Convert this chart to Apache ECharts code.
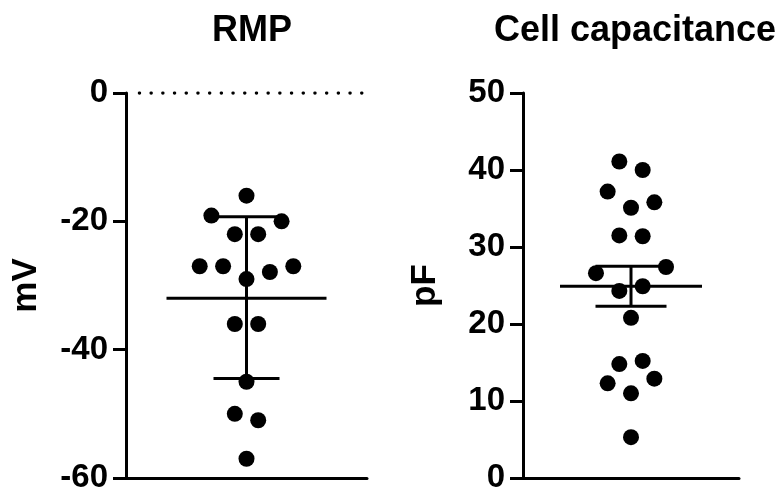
<!DOCTYPE html>
<html>
<head>
<meta charset="utf-8">
<script src="https://cdn.jsdelivr.net/npm/echarts@6/dist/echarts.min.js"></script>
<style>
  html, body { margin: 0; padding: 0; background: #fff; }
  #chart { width: 782px; height: 499px; }
</style>
</head>
<body>
<div id="chart"></div>
<script>
document.addEventListener('DOMContentLoaded', function() {

    // RMP (mV): [jitter column, value]
    const rmpPoints = [
        [0, -16.0], [-3, -19.1], [3, -20.0], [-1, -22.0], [1, -22.0],
        [-4, -27.0], [-2, -27.0], [4, -27.0], [2, -27.9], [0, -29.0],
        [-1, -36.0], [1, -36.0], [0, -45.0], [-1, -50.0], [1, -51.0], [0, -57.0]
    ];
    // mean, lower, upper (mean ± SD)
    const rmpSummary = [-32.0, -44.5, -19.3];
    // min, max, step
    const rmpTicks = [-60, 0, 20];

    // Cell capacitance (pF)
    const capPoints = [
        [-1, 41.1], [1, 40.0], [-2, 37.2], [2, 35.8], [0, 35.1],
        [-1, 31.5], [1, 31.4], [3, 27.4], [-3, 26.6], [-1, 24.3],
        [1, 24.9], [0, 20.8], [1, 15.2], [-1, 14.8], [-2, 12.3],
        [2, 12.9], [0, 11.0], [0, 5.3]
    ];
    // mean, lower, upper (mean ± SEM)
    const capSummary = [24.9, 22.3, 27.5];
    const capTicks = [0, 50, 10];

    const zeroLine = [[-9.15, 0], [9.9, 0]];

    const font = 'Liberation Sans, Arial, sans-serif';

    const errorBars = (meanHalf, capHalf) => (params, api) => {
        const mid = api.coord([0, api.value(1)]);
        const lo = api.coord([0, api.value(2)]);
        const hi = api.coord([0, api.value(3)]);
        const style = { stroke: '#000', lineWidth: 3 };
        const seg = (x1, y1, x2, y2) => ({ type: 'line', shape: { x1, y1, x2, y2 }, style });
        return {
            type: 'group',
            children: [
                seg(mid[0] - meanHalf, mid[1], mid[0] + meanHalf, mid[1]),
                seg(lo[0], lo[1], hi[0], hi[1]),
                seg(lo[0] - capHalf, lo[1], lo[0] + capHalf, lo[1]),
                seg(hi[0] - capHalf, hi[1], hi[0] + capHalf, hi[1])
            ]
        };
    };

    const yAxis = (idx, ticks, name, gap) => ({
        type: 'value',
        gridIndex: idx,
        min: ticks[0],
        max: ticks[1],
        interval: ticks[2],
        name: name,
        nameLocation: 'middle',
        nameGap: gap,
        nameRotate: 90,
        nameTextStyle: { fontFamily: font, fontWeight: 'bold', fontSize: 35, color: '#000' },
        axisLine: { show: true, onZero: false, lineStyle: { color: '#000', width: 3 } },
        axisTick: { show: true, length: 13, lineStyle: { color: '#000', width: 3 } },
        axisLabel: { fontFamily: font, fontWeight: 'bold', fontSize: 33, color: '#000', margin: 18 },
        splitLine: { show: false }
    });

    const xAxis = (idx, half) => ({
        type: 'value',
        gridIndex: idx,
        min: -half,
        max: half,
        axisLine: { show: true, onZero: false, lineStyle: { color: '#000', width: 3 } },
        axisTick: { show: false },
        axisLabel: { show: false },
        splitLine: { show: false }
    });

    const chart = echarts.init(document.getElementById('chart'));

    chart.setOption({
        animation: false,
        backgroundColor: '#fff',
        title: [
            {
                text: 'RMP', left: 247, top: 8, textAlign: 'center',
                textStyle: { fontFamily: font, fontWeight: 'bold', fontSize: 36, color: '#000' }
            },
            {
                text: 'Cell capacitance', left: 630, top: 8, textAlign: 'center',
                textStyle: { fontFamily: font, fontWeight: 'bold', fontSize: 36, color: '#000' }
            }
        ],
        grid: [
            { left: 126, top: 93, width: 241, height: 385 },
            { left: 523, top: 93, width: 216, height: 385 }
        ],
        xAxis: [xAxis(0, 10.3), xAxis(1, 9.25)],
        yAxis: [yAxis(0, rmpTicks, 'mV', 82), yAxis(1, capTicks, 'pF', 80)],
        series: [
            {
                type: 'line',
                xAxisIndex: 0, yAxisIndex: 0,
                data: zeroLine,
                symbol: 'none',
                lineStyle: { color: '#000', width: 3.5, type: [0.01, 11.69], cap: 'round' }
            },
            {
                type: 'custom',
                xAxisIndex: 0, yAxisIndex: 0,
                renderItem: errorBars(80, 33),
                encode: { x: 0, y: 1 },
                data: [[0].concat(rmpSummary)],
                z: 3
            },
            {
                type: 'scatter',
                xAxisIndex: 0, yAxisIndex: 0,
                data: rmpPoints,
                symbolSize: 16,
                itemStyle: { color: '#000', opacity: 1 },
                z: 4
            },
            {
                type: 'custom',
                xAxisIndex: 1, yAxisIndex: 1,
                renderItem: errorBars(71, 35.5),
                encode: { x: 0, y: 1 },
                data: [[0].concat(capSummary)],
                z: 3
            },
            {
                type: 'scatter',
                xAxisIndex: 1, yAxisIndex: 1,
                data: capPoints,
                symbolSize: 16,
                itemStyle: { color: '#000', opacity: 1 },
                z: 4
            }
        ]
    });

});
</script>
</body>
</html>
